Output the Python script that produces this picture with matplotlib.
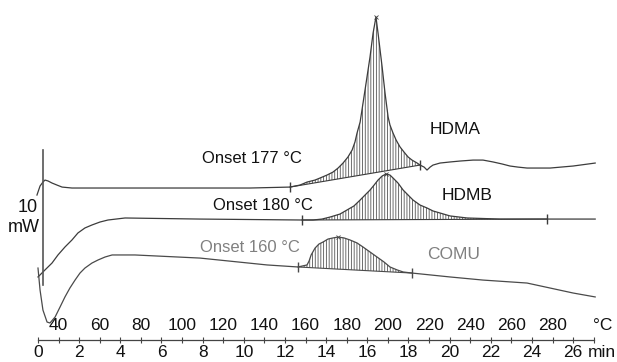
import numpy as np
import matplotlib.pyplot as plt

plt.rcParams['font.family'] = ['Liberation Sans', 'DejaVu Sans']
plt.rcParams['hatch.linewidth'] = 0.6

# DSC traces: time (min) vs heat flow (mW, exo up, curves stacked)
hdma_t = [-0.05, 0.10, 0.24, 0.34, 0.49, 0.68, 0.92, 1.17, 1.65, 5.44, 10.30, 12.24, 12.73,
          13.07, 13.46, 13.70, 14.04, 14.33, 14.58, 14.82, 15.06, 15.26, 15.40, 15.50,
          15.65, 15.74, 15.94, 16.13, 16.28, 16.42, 16.52, 16.72, 16.86, 17.01, 17.10,
          17.25, 17.40, 17.59, 17.78, 17.98, 18.17, 18.42, 18.56, 18.76, 18.90, 19.05,
          19.19, 19.53, 20.02, 20.51, 21.14, 21.62, 22.11, 22.55, 22.93, 23.32, 23.76,
          24.88, 26.00, 27.07]
hdma_q = [10.74, 11.41, 11.70, 11.85, 11.78, 11.63, 11.48, 11.33, 11.26, 11.26, 11.26, 11.33, 11.48,
          11.70, 11.85, 12.00, 12.22, 12.44, 12.74, 13.11, 13.56, 14.07, 14.67, 15.33,
          16.15, 17.04, 19.04, 20.96, 22.74, 23.93, 22.74, 20.22, 18.30, 16.52, 15.93,
          15.33, 14.81, 14.30, 13.93, 13.56, 13.33, 13.11, 12.96, 12.81, 12.59, 12.81,
          12.96, 13.11, 13.19, 13.26, 13.33, 13.33, 13.19, 13.04, 12.89, 12.81, 12.74,
          12.74, 12.89, 13.11]

hdmb_t = [0.0, 0.34, 0.68, 0.97, 1.31, 1.65, 1.94, 2.28, 2.62, 3.01, 3.40, 4.23, 7.87,
          12.83, 13.36, 13.80, 14.19, 14.67, 15.01, 15.35, 15.65, 15.89, 16.13, 16.33,
          16.52, 16.72, 16.91, 17.10, 17.25, 17.49, 17.74, 17.98, 18.22, 18.56, 18.90,
          19.19, 19.53, 20.02, 20.85, 22.45, 24.73, 27.07]
hdmb_q = [4.67, 5.19, 5.70, 6.30, 6.89, 7.41, 7.93, 8.30, 8.52, 8.74, 8.89, 9.04, 8.96,
          8.89, 8.89, 8.96, 9.11, 9.33, 9.63, 9.93, 10.37, 10.74, 11.11, 11.48,
          11.85, 12.15, 12.30, 12.22, 12.00, 11.63, 11.11, 10.74, 10.37, 10.00, 9.78,
          9.56, 9.41, 9.19, 9.04, 8.96, 8.96, 8.96]

comu_t = [0.0, 0.10, 0.24, 0.44, 0.58, 0.83, 1.07, 1.31, 1.55, 1.80, 2.04, 2.28, 2.62,
          2.92, 3.26, 3.60, 4.71, 7.87, 11.13, 12.63, 13.07, 13.17, 13.27, 13.46, 13.65,
          13.85, 14.09, 14.33, 14.58, 14.87, 15.16, 15.50, 15.79, 16.13, 16.47, 16.81,
          17.10, 17.45, 17.74, 18.17, 20.02, 21.62, 23.76, 24.88, 26.00, 27.07]
comu_q = [5.33, 3.70, 2.22, 1.33, 1.26, 1.70, 2.44, 3.19, 3.85, 4.44, 4.96, 5.33, 5.70,
          5.93, 6.15, 6.30, 6.30, 6.07, 5.56, 5.41, 5.56, 5.85, 6.30, 6.81, 7.11,
          7.26, 7.48, 7.56, 7.63, 7.56, 7.41, 7.19, 6.89, 6.52, 6.15, 5.78,
          5.41, 5.19, 5.04, 4.96, 4.67, 4.44, 4.22, 3.85, 3.48, 3.19]

# integration limits (onset, end) in min and peak maxima
hdma_limits = [12.24, 18.56]
hdmb_limits = [12.83, 24.73]
comu_limits = [12.63, 18.17]
hdma_apex = 16.42
hdmb_apex = 16.91
comu_apex = 14.58

time_ticks = list(range(0, 28))
time_labels = [0, 2, 4, 6, 8, 10, 12, 14, 16, 18, 20, 22, 24, 26]
temp_labels = [40, 60, 80, 100, 120, 140, 160, 180, 200, 220, 240, 260, 280]

fig = plt.figure(figsize=(6.17, 3.62), dpi=100)
ax = fig.add_axes([0, 0, 1, 1])
ax.set_xlim(-1.846, 28.13)
ax.set_ylim(-1.63, 25.19)
ax.axis('off')

traces = [
    (hdma_t, hdma_q, hdma_limits, hdma_apex, '#3c3c3c'),
    (hdmb_t, hdmb_q, hdmb_limits, hdmb_apex, '#3c3c3c'),
    (comu_t, comu_q, comu_limits, comu_apex, '#4a4a4a'),
]

for t, q, lim, apex, col in traces:
    t = np.array(t)
    q = np.array(q)
    ax.plot(t, q, color=col, lw=0.9, solid_joinstyle='round')
    b = np.interp(lim, t, q)
    # baseline between onset and end
    ax.plot(lim, b, color=col, lw=0.8)
    m = (t >= lim[0]) & (t <= lim[1])
    base = np.interp(t[m], lim, b)
    ax.fill_between(t[m], q[m], base, facecolor='none', edgecolor='#555555',
                    hatch='||||||', linewidth=0)
    ax.plot(lim, b, ls='none', marker='|', ms=7, mew=1.0, color=col)
    ax.plot([apex], [np.interp(apex, t, q)], ls='none', marker='x', ms=3, mew=0.6, color=col)

# 10 mW scale bar
ax.plot([0.24, 0.24], [4.07, 14.07], color='#555555', lw=1.2)
ax.text(0.0, 9.78, '10', ha='right', va='center', fontsize=13, color='#111111')
ax.text(0.1, 8.30, 'mW', ha='right', va='center', fontsize=13, color='#111111')

# time axis
ax.plot([0, 27], [0, 0], color='#444444', lw=0.9)
ax.plot(time_ticks, [0] * len(time_ticks), ls='none', marker='|', ms=5, mew=0.8, color='#444444')
for v in time_labels:
    ax.text(v, -0.96, str(v), ha='center', va='center', fontsize=12.5, color='#111111')
ax.text(26.72, -0.96, 'min', ha='left', va='center', fontsize=12.5, color='#111111')
for v in temp_labels:
    ax.text((v - 30) / 10, 1.11, str(v), ha='center', va='center', fontsize=12.5, color='#111111')
ax.text(27.45, 1.11, '°C', ha='center', va='center', fontsize=12.5, color='#111111')

# annotations
ax.text(7.97, 13.48, 'Onset 177 °C', ha='left', va='center', fontsize=12, color='#111111')
ax.text(8.50, 10.00, 'Onset 180 °C', ha='left', va='center', fontsize=12, color='#111111')
ax.text(7.87, 6.89, 'Onset 160 °C', ha='left', va='center', fontsize=12, color='#808080')
ax.text(19.05, 15.56, 'HDMA', ha='left', va='center', fontsize=12.5, color='#111111')
ax.text(19.63, 10.74, 'HDMB', ha='left', va='center', fontsize=12.5, color='#111111')
ax.text(18.90, 6.30, 'COMU', ha='left', va='center', fontsize=12.5, color='#808080')

fig.savefig('out.png', dpi=100)
